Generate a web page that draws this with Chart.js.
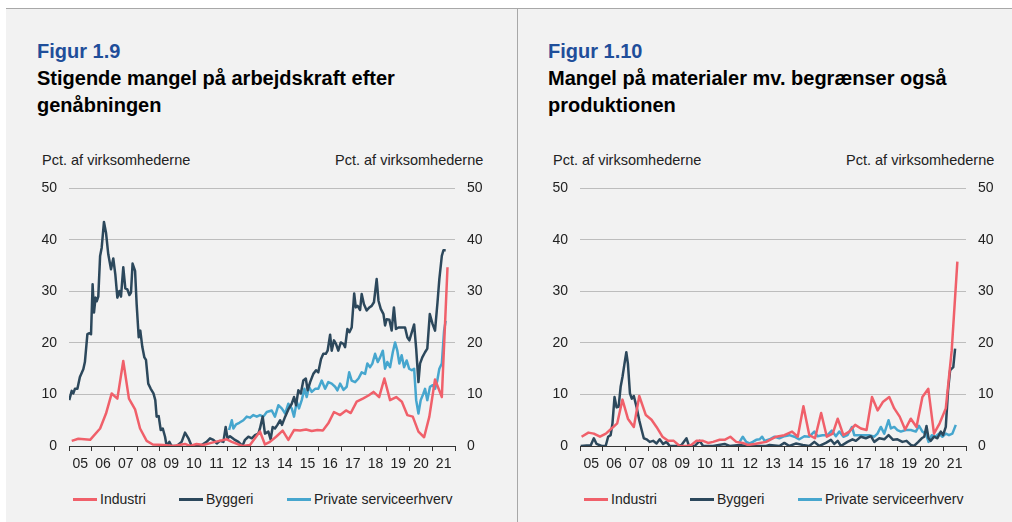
<!DOCTYPE html>
<html lang="da">
<head>
<meta charset="utf-8">
<script src="https://cdn.jsdelivr.net/npm/chart.js@4.4.0/dist/chart.umd.min.js"></script>
<style>
  body { margin:0; width:1012px; height:522px; background:#fff; overflow:hidden; position:relative;
         font-family:"Liberation Sans", Arial, sans-serif; }
  #panel { position:absolute; left:6px; top:8px; right:0; bottom:0; background:#f2f2f2; border-top:1px solid #a8a8a8; }
  #divider { position:absolute; left:517px; top:8px; width:1px; bottom:0; background:#a8a8a8; }
  .fig { position:absolute; top:38px; font-size:20px; font-weight:bold; line-height:27px; color:#000; white-space:nowrap; }
  .fig .nr { color:#1f4e9a; }
  .unit { position:absolute; top:152px; font-size:14.5px; line-height:16px; color:#222; white-space:nowrap; }
  canvas { position:absolute; top:168px; }
  .item { position:absolute; top:490px; font-size:14px; line-height:18px; color:#222; white-space:nowrap; }
  .item i { display:inline-block; width:24px; height:3px; vertical-align:middle; margin-right:3px; position:relative; top:-1px; }
</style>
</head>
<body>
<div id="panel"></div>
<div id="divider"></div>

<div class="fig" style="left:37px"><span class="nr">Figur 1.9</span><br>Stigende mangel på arbejdskraft efter<br>genåbningen</div>
<div class="fig" style="left:548px"><span class="nr">Figur 1.10</span><br>Mangel på materialer mv. begrænser også<br>produktionen</div>

<div class="unit" style="left:42px">Pct. af virksomhederne</div>
<div class="unit" style="left:335px">Pct. af virksomhederne</div>
<div class="unit" style="left:553px">Pct. af virksomhederne</div>
<div class="unit" style="left:846px">Pct. af virksomhederne</div>

<canvas id="graf1" width="480" height="309" style="left:20px"></canvas>
<canvas id="graf2" width="480" height="309" style="left:531px"></canvas>

<div id="legends"></div>

<script>
// --- Data (x = år som decimaltal) ---
const serieNavne = ['Industri', 'Byggeri', 'Private serviceerhverv'];
const serieFarver = ['#f0606a', '#2c485c', '#46a6ce'];
const aarLabels = ['05','06','07','08','09','10','11','12','13','14','15','16','17','18','19','20','21'];

// Figur 1.9 - mangel på arbejdskraft
const arbIndustriAar = [2005.12,2005.41,2005.93,2006.37,2006.63,2006.88,2007.13,2007.39,2007.64,2007.91,
  2008.13,2008.42,2008.69,2009.16,2009.60,2010.11,2010.33,2010.62,2010.92,2011.43,2011.95,2012.17,2012.64,2012.97,2013.41,
  2013.63,2013.85,2014.12,2014.41,2014.66,2014.91,2015.18,2015.44,2015.69,2015.94,2016.18,2016.42,2016.67,2016.94,
  2017.20,2017.41,2017.67,2017.94,2018.19,2018.41,2018.66,2018.89,2019.14,2019.41,2019.66,2019.90,2020.14,2020.39,
  2020.64,2020.87,2021.12,2021.42,2021.67];
const arbIndustri = [1.0,1.4,1.2,3.4,6.3,10.2,9.2,16.5,9.2,7.1,3.4,1.0,0.3,0.2,0,0.4,0,0.4,0.2,0.8,1.3,0.8,0,0.2,2.8,
  0.3,0.8,1.8,3.0,1.2,3.1,3.0,3.2,2.9,3.1,3.0,4.4,6.6,6.0,6.9,6.4,8.6,9.2,9.8,10.5,9.5,13.1,8.9,9.5,8.6,6.0,5.7,2.8,
  1.7,5.7,12.9,9.5,34.7];

const arbByggeriAar = [2005.01,2005.12,2005.19,2005.26,2005.37,2005.48,2005.63,2005.70,2005.81,2005.90,2005.97,
  2006.04,2006.10,2006.17,2006.22,2006.29,2006.37,2006.44,2006.54,2006.63,2006.73,2006.85,2006.95,
  2007.04,2007.13,2007.22,2007.29,2007.39,2007.48,2007.57,2007.66,2007.73,2007.80,2007.91,2007.98,
  2008.07,2008.14,2008.23,2008.32,2008.39,2008.49,2008.60,2008.72,2008.80,2008.86,2008.95,
  2009.04,2009.13,2009.23,2009.30,2009.42,2009.52,2009.74,2009.96,2010.11,2010.26,2010.40,2010.62,2010.84,
  2011.06,2011.21,2011.36,2011.51,2011.65,2011.80,2011.90,2011.98,2012.09,2012.27,2012.46,2012.64,2012.75,2012.90,
  2013.05,2013.19,2013.34,
  2013.41,2013.53,2013.63,2013.78,2013.88,2013.97,2014.07,2014.18,2014.30,2014.38,2014.52,2014.66,2014.81,2014.91,
  2015.00,2015.10,2015.21,2015.32,2015.43,2015.51,2015.62,2015.76,2015.88,2015.98,
  2016.10,2016.20,2016.31,2016.39,2016.50,2016.57,2016.67,2016.76,2016.86,2016.97,
  2017.09,2017.16,2017.26,2017.35,2017.45,2017.56,2017.63,2017.71,2017.82,2017.89,2017.99,
  2018.11,2018.23,2018.33,2018.43,2018.55,2018.63,2018.73,2018.85,2018.92,2018.99,
  2019.11,2019.21,2019.31,2019.40,2019.51,2019.65,2019.80,2019.90,2019.99,
  2020.10,2020.20,2020.29,2020.39,2020.46,2020.56,2020.68,2020.78,2020.89,
  2021.01,2021.12,2021.23,2021.31,2021.42,2021.49,2021.59];
const arbByggeri = [8.9,10.7,10.2,11.1,11.1,13.4,14.9,16.3,21.7,21.9,21.7,
  31.4,25.9,28.8,28.1,29.0,36.9,38.5,43.5,41.4,37.2,34.3,36.4,
  33.3,28.8,30.1,29.0,34.7,30.6,30.4,29.3,29.8,35.4,34.0,27.5,
  21.1,22.4,19.2,17.2,16.7,12.1,11.1,10.2,8.9,5.7,5.8,
  3.1,3.4,1.8,0,0.8,0,0,0.8,2.6,1.5,0,0,0.2,
  0.8,1.5,1.2,0.5,1.0,0.8,3.7,1.5,1.9,1.3,0.8,0,1.2,1.8,
  1.5,2.1,2.4,
  3.4,5.7,2.4,2.8,1.3,3.7,3.4,4.1,5.0,4.1,5.7,7.1,8.2,9.5,
  7.9,10.8,10.2,12.7,13.1,10.8,12.4,14.0,14.7,14.3,
  16.9,17.9,17.9,18.5,21.6,18.5,20.5,19.8,18.5,20.1,
  19.8,19.2,22.7,22.1,23.0,29.6,26.9,27.2,26.4,29.5,27.5,
  26.3,26.9,27.2,27.9,32.4,28.2,26.6,25.6,23.4,24.6,
  24.5,22.4,26.9,22.7,23.0,23.0,23.0,21.1,20.5,
  22.1,23.6,18.9,12.4,16.0,17.2,18.2,18.9,25.6,
  23.7,22.4,27.9,32.4,36.9,38.0,38.0];

const arbServiceAar = [2012.05,2012.17,2012.24,2012.36,2012.50,2012.68,2012.83,2012.97,2013.12,2013.27,
  2013.41,2013.56,2013.71,2013.93,2014.07,2014.22,2014.37,2014.52,2014.66,2014.81,2014.91,
  2015.03,2015.13,2015.25,2015.37,2015.47,2015.57,2015.69,2015.84,2015.98,
  2016.13,2016.28,2016.42,2016.57,2016.72,2016.82,2016.94,
  2017.09,2017.23,2017.34,2017.45,2017.60,2017.75,2017.89,
  2018.04,2018.14,2018.26,2018.36,2018.48,2018.60,2018.70,2018.82,2018.92,
  2019.02,2019.14,2019.26,2019.36,2019.46,2019.55,2019.65,2019.76,2019.87,2019.98,
  2020.10,2020.20,2020.29,2020.39,2020.49,2020.61,2020.68,2020.78,2020.90,
  2021.02,2021.12,2021.22,2021.31,2021.42,2021.52,2021.59];
const arbService = [3.1,5.0,3.4,4.2,4.5,5.0,5.7,5.5,6.0,5.7,
  6.0,5.7,6.6,6.9,5.7,7.9,7.3,6.3,8.2,7.3,5.7,
  8.6,7.3,8.9,11.1,9.5,11.5,10.5,11.1,11.1,
  12.7,11.1,12.4,12.1,11.5,10.8,12.1,
  10.9,11.5,14.3,12.7,12.4,13.1,14.3,
  14.0,16.0,15.3,16.0,17.9,16.3,17.2,18.5,15.0,
  16.3,15.3,18.2,20.1,18.5,16.0,17.6,15.3,16.6,15.0,
  14.7,15.0,8.9,6.3,8.9,10.2,11.1,8.9,11.5,
  11.8,11.1,12.7,15.0,16.0,22.4,24.3];

// Figur 1.10 - mangel på materialer mv.
const matIndustriAar = [2005.07,2005.37,2005.61,2005.88,2006.14,2006.39,2006.64,2006.87,2007.11,2007.37,2007.61,2007.90,
  2008.15,2008.37,2008.63,2008.88,2009.13,2009.39,2009.69,2009.90,2010.12,2010.42,2010.64,2010.86,
  2011.15,2011.37,2011.62,2011.88,2012.17,2012.39,2012.69,2012.91,2013.20,
  2013.64,2014.00,2014.34,2014.59,2014.84,2015.10,2015.35,2015.62,2015.87,2016.13,2016.35,2016.60,2016.86,
  2017.12,2017.37,2017.62,2017.86,2018.11,2018.35,2018.62,2018.84,2019.08,2019.32,2019.57,2019.82,
  2020.08,2020.34,2020.59,2020.84,2021.11,2021.37,2021.62];
const matIndustri = [1.8,2.6,2.4,1.8,2.4,3.4,4.4,9.0,5.3,3.7,9.7,6.0,
  5.1,3.7,1.8,1.0,1.0,0,0,0.2,1.0,1.0,0.6,0.8,
  1.2,1.2,1.8,0.8,0.6,0.2,0.4,0.6,0.8,
  1.8,2.1,2.8,1.8,7.7,2.1,1.5,6.4,1.8,2.4,5.3,2.1,2.8,
  4.1,3.4,3.1,9.5,6.9,8.6,9.5,7.3,5.7,3.2,5.3,3.7,
  9.5,11.1,2.4,4.4,7.3,18.5,35.8];

const matByggeriAar = [2005.03,2005.29,2005.47,2005.61,2005.73,2005.95,2006.13,2006.24,2006.35,2006.43,2006.52,2006.61,
  2006.70,2006.79,2006.87,2006.96,2007.04,2007.11,2007.20,2007.28,2007.37,2007.49,2007.61,2007.71,2007.81,2007.93,
  2008.07,2008.22,2008.37,2008.51,2008.66,2008.81,2008.95,2009.25,2009.47,2009.69,2009.80,
  2010.05,2010.27,2010.42,2010.86,2011.37,2011.59,2012.03,2012.32,2013.20,
  2013.35,2013.78,2014.00,2014.22,2014.52,2014.81,2015.10,2015.32,2015.54,2015.83,
  2016.05,2016.20,2016.35,2016.49,2016.78,2017.00,2017.15,2017.37,2017.59,2017.81,2017.96,
  2018.18,2018.40,2018.59,2018.79,2018.98,2019.20,2019.38,2019.57,2019.71,2019.90,
  2020.05,2020.16,2020.26,2020.35,2020.45,2020.59,2020.74,2020.89,2020.99,
  2021.11,2021.21,2021.30,2021.37,2021.44,2021.52];
const matByggeri = [0,0.1,0.1,1.5,0.4,0,0,1.8,2.1,4.4,9.5,7.5,
  7.6,11.5,13.4,16.0,18.2,16.0,10.2,9.2,9.7,7.6,5.0,3.2,1.5,1.3,
  0.8,1.0,0.5,1.3,0.4,0.8,0,0,0.2,1.5,0,
  0,1.0,0,0,0.4,0,0.2,0,0,
  0.2,0,0.6,0,0.5,0.2,0,0.8,0,0.6,
  1.2,0.4,1.0,0,0.8,1.3,1.0,1.8,1.5,1.9,0.8,
  1.5,1.3,2.1,1.2,1.3,0.8,1.0,0.2,0,0.8,
  1.5,1.8,3.9,1.5,1.0,1.8,1.5,2.8,2.1,
  3.7,10.8,14.7,15.0,15.3,18.9];

const matServiceAar = [2012.03,2012.17,2012.32,2012.47,2012.61,2012.76,2012.91,2013.02,2013.13,
  2013.35,2013.57,2013.78,2014.00,2014.22,2014.44,2014.66,2014.88,2015.10,2015.32,2015.46,2015.68,2015.90,
  2016.09,2016.27,2016.42,2016.60,2016.78,2016.98,2017.08,2017.30,2017.52,2017.74,2017.96,
  2018.10,2018.25,2018.40,2018.59,2018.69,2018.84,2018.98,2019.13,2019.35,2019.57,2019.79,2019.93,
  2020.08,2020.23,2020.35,2020.49,2020.64,2020.81,2020.96,2021.11,2021.25,2021.40,2021.55];
const matService = [0.8,1.8,0.8,0.5,0.8,1.2,1.3,1.8,1.0,
  1.3,1.8,1.5,1.9,2.1,1.8,1.3,1.9,1.8,2.8,1.9,2.1,2.1,
  3.0,1.9,2.8,1.8,2.1,3.7,2.1,2.1,2.1,2.1,1.8,
  2.4,3.7,2.4,5.0,3.4,3.7,3.1,2.8,3.1,3.1,2.8,3.9,
  2.8,2.4,0.8,2.1,1.8,2.4,1.8,2.4,2.1,2.4,4.1];

// --- Hjælpere ---
const tekstFont = { family: '"Liberation Sans", Arial, sans-serif', size: 14 };
const aarGraenser = aarLabels.map((l, i) => 2005 + i).concat([2022]);
const aarMidter = aarLabels.map((l, i) => 2005.5 + i);

function zip(xs, ys) {
  const n = Math.min(xs.length, ys.length);
  const out = [];
  for (let i = 0; i < n; i++) out.push({ x: xs[i], y: ys[i] });
  return out;
}

function lavGraf(id, serier) {
  return new Chart(document.getElementById(id), {
    type: 'line',
    data: {
      datasets: serier.map((s, i) => ({
        label: serieNavne[i],
        data: zip(s[0], s[1]),
        borderColor: serieFarver[i],
        borderWidth: 2.5,
        borderJoinStyle: 'round',
        pointRadius: 0,
        tension: 0,
        fill: false
      }))
    },
    options: {
      responsive: false,
      animation: false,
      layout: { padding: { top: 1, left: 0, right: 0, bottom: 0 } },
      plugins: { legend: { display: false }, tooltip: { enabled: false } },
      scales: {
        x: {
          type: 'linear', position: 'bottom', min: 2005, max: 2022,
          afterBuildTicks: ax => { ax.ticks = aarGraenser.map(v => ({ value: v })); },
          afterFit: ax => { ax.height = 6; },
          ticks: { display: false },
          grid: { drawOnChartArea: false, drawTicks: true, tickLength: 5, color: '#333' },
          border: { display: true, color: '#333', width: 1 }
        },
        x2: {
          type: 'linear', position: 'bottom', min: 2005, max: 2022,
          afterBuildTicks: ax => { ax.ticks = aarMidter.map(v => ({ value: v })); },
          afterFit: ax => { ax.height = 25; },
          ticks: {
            autoSkip: false, maxRotation: 0, padding: 4, color: '#222', font: tekstFont,
            callback: v => aarLabels[Math.floor(v) - 2005]
          },
          grid: { display: false, drawTicks: false },
          border: { display: false }
        },
        y: {
          position: 'left', min: 0, max: 50,
          afterFit: ax => { ax.width = 49; },
          ticks: { stepSize: 10, padding: 12, color: '#222', font: tekstFont },
          grid: { drawTicks: false, tickLength: 0, color: c => c.tick.value === 0 ? 'rgba(0,0,0,0)' : '#bdbdbd' },
          border: { display: false }
        },
        y2: {
          position: 'right', min: 0, max: 50,
          afterFit: ax => { ax.width = 45; },
          ticks: { stepSize: 10, padding: 12, color: '#222', font: tekstFont },
          grid: { display: false, drawTicks: false, tickLength: 0 },
          border: { display: false }
        }
      }
    }
  });
}

lavGraf('graf1', [[arbIndustriAar, arbIndustri], [arbByggeriAar, arbByggeri], [arbServiceAar, arbService]]);
lavGraf('graf2', [[matIndustriAar, matIndustri], [matByggeriAar, matByggeri], [matServiceAar, matService]]);

// --- Forklaringer under figurerne ---
const legendStart = [73, 584];
const legendTrin = [0, 106, 214];
const holder = document.getElementById('legends');
legendStart.forEach(x0 => {
  serieNavne.forEach((navn, i) => {
    const el = document.createElement('div');
    el.className = 'item';
    el.style.left = (x0 + legendTrin[i]) + 'px';
    el.innerHTML = '<i style="background:' + serieFarver[i] + '"></i>' + navn;
    holder.appendChild(el);
  });
});
</script>
</body>
</html>
